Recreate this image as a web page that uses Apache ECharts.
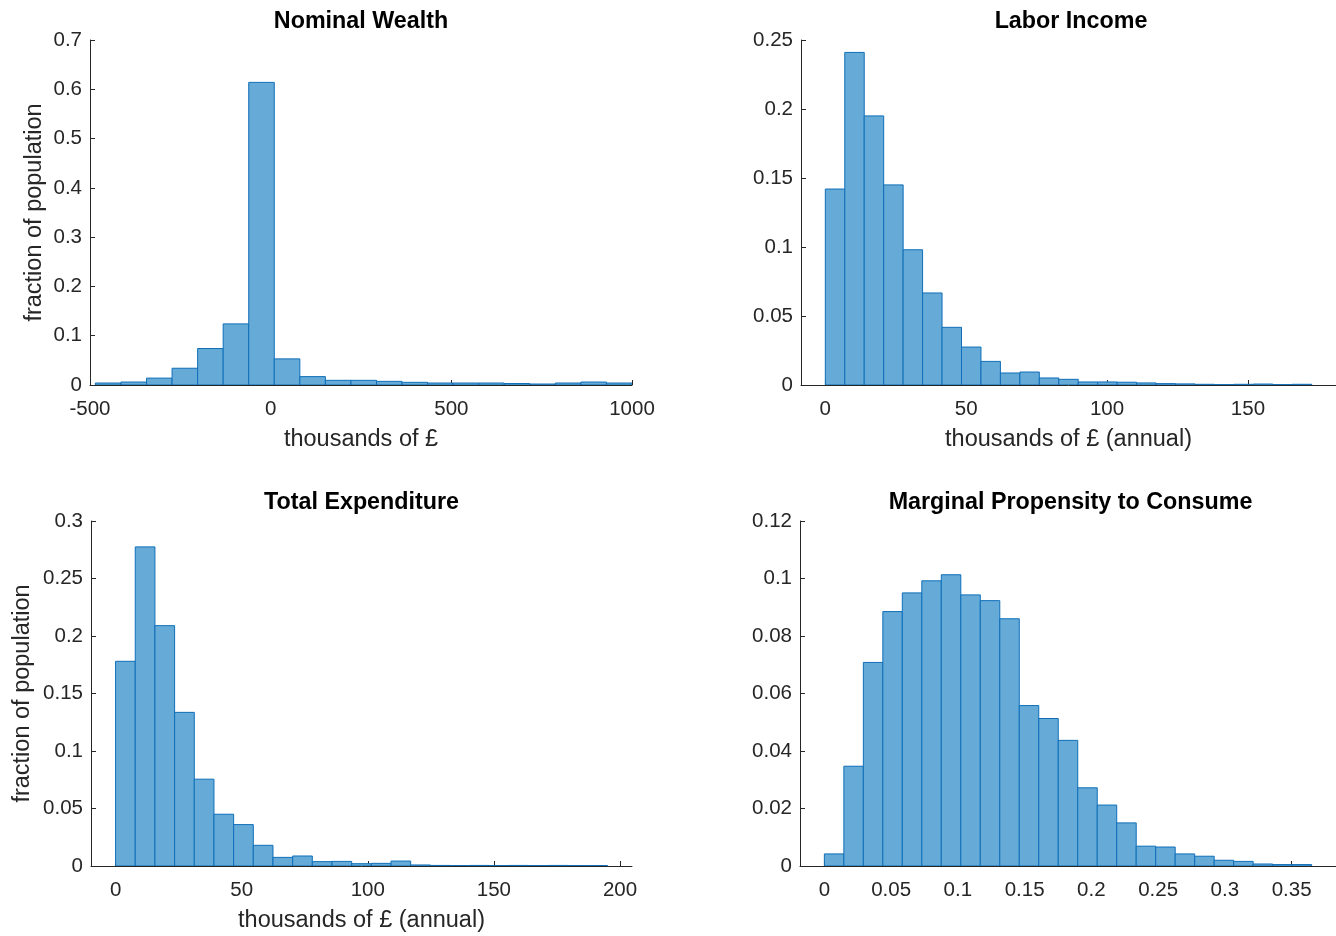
<!DOCTYPE html>
<html>
<head>
<meta charset="utf-8">
<title>Household distributions</title>
<script src="https://cdn.jsdelivr.net/npm/echarts@6/dist/echarts.min.js"></script>
<style>
  html, body { margin: 0; padding: 0; background: #ffffff; }
  #chart { width: 1336px; height: 936px; }
</style>
</head>
<body>
<div id="chart"></div>
<script>
// Histogram bins: first edge, bin width, and fraction of population per bin.
const wealthStart = -485;
const wealthWidth = 70.714;
const wealthFrac = [0.004, 0.006, 0.014, 0.034, 0.074, 0.124, 0.614, 0.053, 0.017, 0.0095,
  0.0095, 0.0074, 0.0054, 0.004, 0.004, 0.004, 0.003, 0.002, 0.004, 0.006, 0.004];

const laborStart = 0;
const laborWidth = 6.905;
const laborFrac = [0.142, 0.241, 0.195, 0.145, 0.098, 0.0667, 0.0418, 0.0275, 0.0171, 0.0087,
  0.0094, 0.0051, 0.0041, 0.0022, 0.0022, 0.0020, 0.0015, 0.0010, 0.0008, 0.0005,
  0.0003, 0.0005, 0.0007, 0.0003, 0.0005];

const expendStart = 0;
const expendWidth = 7.8;
const expendFrac = [0.178, 0.2775, 0.209, 0.1336, 0.0755, 0.045, 0.036, 0.018, 0.0075, 0.0087,
  0.0038, 0.004, 0.002, 0.0023, 0.0043, 0.0009, 0.0005, 0.0004, 0.0005, 0.0004,
  0.0005, 0.0004, 0.0005, 0.0004, 0.0004];

const mpcStart = 0;
const mpcWidth = 0.0146;
const mpcFrac = [0.0042, 0.0347, 0.0708, 0.0885, 0.095, 0.0992, 0.1013, 0.0943, 0.0923, 0.086,
  0.0558, 0.0513, 0.0437, 0.0272, 0.0212, 0.0150, 0.0069, 0.0066, 0.0042, 0.0034,
  0.0020, 0.0016, 0.0007, 0.0005, 0.0005];

// Tick labels
const wealthTicks = [-500, 0, 500, 1000];
const laborTicks = [0, 50, 100, 150];
const expendTicks = [0, 50, 100, 150, 200];
const mpcTicks = [0, 0.05, 0.1, 0.15, 0.2, 0.25, 0.3, 0.35];

const titles = ['Nominal Wealth', 'Labor Income', 'Total Expenditure', 'Marginal Propensity to Consume'];
const xNames = ['thousands of £', 'thousands of £ (annual)', 'thousands of £ (annual)', ''];
const yName = 'fraction of population';

const FONT = 'Liberation Sans, Arial, Helvetica, sans-serif';
const AXIS_COLOR = '#262626';
const FACE = '#66aad7';
const EDGE = '#0f6fb8';

function binRows(start, width, frac) {
  return frac.map((v, i) => [start + i * width, start + (i + 1) * width, v]);
}

function histSeries(idx, rows) {
  return {
    type: 'custom',
    xAxisIndex: idx,
    yAxisIndex: idx,
    clip: true,
    data: rows,
    encode: { x: [0, 1], y: 2 },
    renderItem: function (params, api) {
      const p0 = api.coord([api.value(0), 0]);
      const p1 = api.coord([api.value(1), api.value(2)]);
      return {
        type: 'rect',
        shape: { x: p0[0], y: p1[1], width: p1[0] - p0[0], height: p0[1] - p1[1] },
        style: { fill: FACE, stroke: EDGE, lineWidth: 1 }
      };
    }
  };
}

const grids = [
  { left: 90, top: 40, width: 542, height: 345 },
  { left: 801, top: 40, width: 540, height: 345 },
  { left: 91, top: 521, width: 541, height: 345 },
  { left: 800, top: 521, width: 541, height: 345 }
];

const xRanges = [[-500, 1000], [-8.63, 181.25], [-9.75, 204.75], [-0.01825, 0.38325]];
const xTickSets = [wealthTicks, laborTicks, expendTicks, mpcTicks];
const yRanges = [[0, 0.7, 0.1], [0, 0.25, 0.05], [0, 0.3, 0.05], [0, 0.12, 0.02]];

const labelStyle = { color: AXIS_COLOR, fontSize: 20.5, fontFamily: FONT };
const nameStyle = { color: AXIS_COLOR, fontSize: 23.5, fontFamily: FONT };
const plain = v => String(v);

const xAxes = grids.map((g, i) => ({
  type: 'value',
  gridIndex: i,
  min: xRanges[i][0],
  max: xRanges[i][1],
  name: xNames[i],
  nameLocation: 'middle',
  nameGap: 43,
  nameTextStyle: nameStyle,
  axisLine: { show: true, onZero: false, lineStyle: { color: AXIS_COLOR, width: 1 } },
  axisTick: { show: true, inside: true, length: 5, customValues: xTickSets[i],
    lineStyle: { color: AXIS_COLOR } },
  axisLabel: Object.assign({ margin: 14, customValues: xTickSets[i], formatter: plain }, labelStyle),
  splitLine: { show: false }
}));

const yAxes = grids.map((g, i) => ({
  type: 'value',
  gridIndex: i,
  min: yRanges[i][0],
  max: yRanges[i][1],
  interval: yRanges[i][2],
  name: (i === 0 || i === 2) ? yName : '',
  nameLocation: 'middle',
  nameRotate: 90,
  nameGap: i === 0 ? 43 : 56,
  nameTextStyle: nameStyle,
  axisLine: { show: true, onZero: false, lineStyle: { color: AXIS_COLOR, width: 1 } },
  axisTick: { show: true, inside: true, length: 5, lineStyle: { color: AXIS_COLOR } },
  axisLabel: Object.assign({ margin: 8, formatter: plain }, labelStyle),
  splitLine: { show: false }
}));

const titleComps = grids.map((g, i) => ({
  text: titles[i],
  left: g.left + g.width / 2,
  top: g.top - 30,
  padding: 0,
  textAlign: 'center',
  textStyle: { color: '#000000', fontSize: 23.3, fontWeight: 'bold', fontFamily: FONT }
}));

const chart = echarts.init(document.getElementById('chart'), null, { renderer: 'canvas' });
chart.setOption({
  backgroundColor: '#ffffff',
  animation: false,
  title: titleComps,
  grid: grids,
  xAxis: xAxes,
  yAxis: yAxes,
  series: [
    histSeries(0, binRows(wealthStart, wealthWidth, wealthFrac)),
    histSeries(1, binRows(laborStart, laborWidth, laborFrac)),
    histSeries(2, binRows(expendStart, expendWidth, expendFrac)),
    histSeries(3, binRows(mpcStart, mpcWidth, mpcFrac))
  ]
});
</script>
</body>
</html>
